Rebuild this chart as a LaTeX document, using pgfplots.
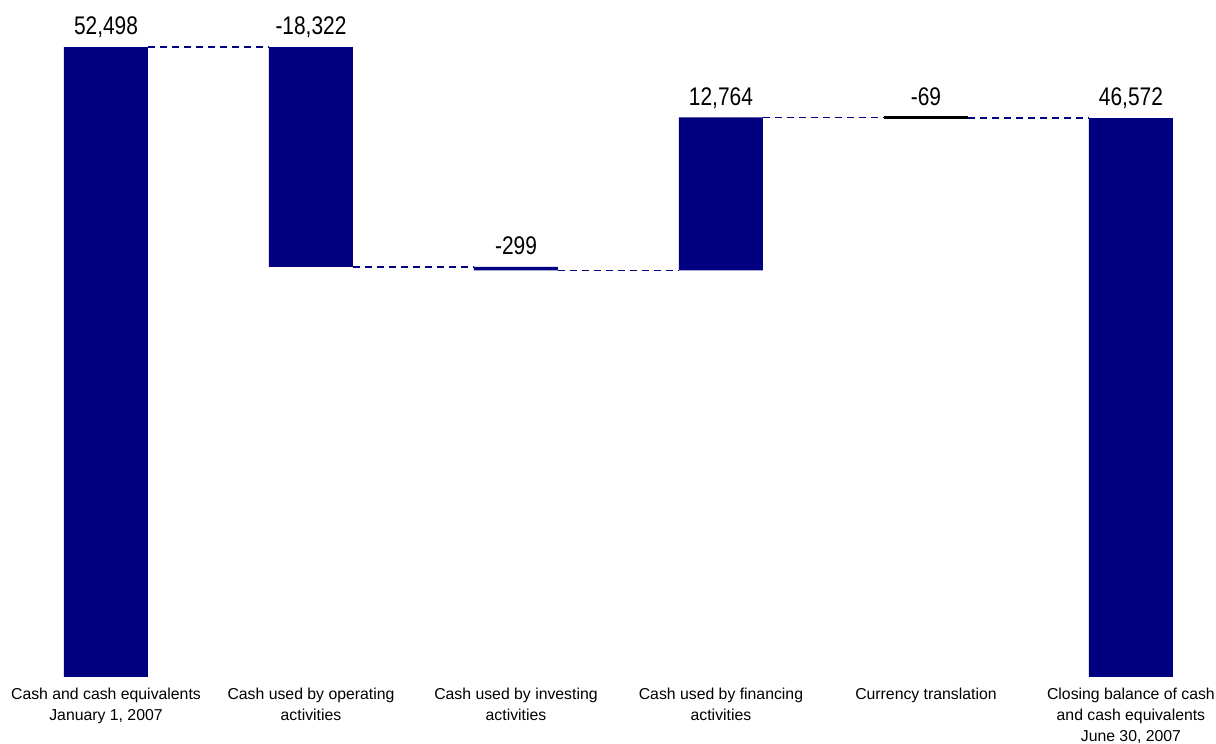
\documentclass[border=0pt]{standalone}
\usepackage{fontspec}
\setmainfont{Liberation Sans}
\newfontfamily\valfont[FakeStretch=0.82]{Liberation Sans}
\usepackage{pgfplots}
\usepackage{pgfplotstable}
\pgfplotsset{compat=1.18}
\definecolor{navy}{RGB}{0,0,128}

\pgfplotstableread{
x base delta top label
0 0 52498 52498 52,498
1 34176 18322 52498 -18,322
2 33877 299 34176 -299
3 33877 12764 46641 12,764
4 46572 69 46641 -69
5 0 46572 46572 46,572
}\wfdata

\pgfplotsset{
  wfframe/.style={
    scale only axis,
    width=1209.5pt, height=660pt,
    xmin=-0.5, xmax=5.4, ymin=0, ymax=55000,
    at={(3.5pt,67pt)}, anchor=south west,
    axis line style={draw=none},
    tick style={draw=none},
    ytick=\empty,
    clip=false,
  }
}

\begin{document}
\begin{tikzpicture}
\path[use as bounding box] (0pt,0pt) rectangle (1216pt,744pt);
\begin{axis}[wfframe,
  ybar stacked, bar width=84pt,
  xtick=data,
  xticklabels={{Cash and cash equivalents\\January 1, 2007},
               {Cash used by operating\\activities},
               {Cash used by investing\\activities},
               {Cash used by financing\\activities},
               {Currency translation},
               {Closing balance of cash\\and cash equivalents\\June 30, 2007}},
  xticklabel style={font=\fontsize{15.8}{21}\selectfont, align=center, anchor=north, inner sep=0pt, yshift=-11pt},
]
\addplot[draw=none, fill=none] table[x=x, y=base] {\wfdata};
\addplot[fill=navy, draw=none] table[x=x, y=delta] {\wfdata};
\end{axis}
\begin{axis}[wfframe, xtick=\empty]
\addplot[navy, line width=1.6pt, dash pattern=on 7pt off 5pt] coordinates {(0.205,52498) (0.795,52498)};
\addplot[navy, line width=1.6pt, dash pattern=on 7pt off 5pt] coordinates {(1.205,34176) (1.795,34176)};
\addplot[navy, line width=1.6pt, dash pattern=on 7pt off 5pt] coordinates {(2.205,33877) (2.795,33877)};
\addplot[navy, line width=1.6pt, dash pattern=on 7pt off 5pt] coordinates {(3.205,46641) (3.795,46641)};
\addplot[navy, line width=1.6pt, dash pattern=on 7pt off 5pt] coordinates {(4.205,46572) (4.795,46572)};
\addplot[black, line width=2.5pt] coordinates {(3.795,46606) (4.205,46606)};
\addplot[draw=none, mark=none,
  nodes near coords, point meta=explicit symbolic,
  every node near coord/.append style={font=\valfont\fontsize{25.5}{28}\selectfont, text depth=0pt, inner sep=0pt, anchor=south, yshift=12pt, text=black}]
  table[x=x, y=top, meta=label] {\wfdata};
\end{axis}
\end{tikzpicture}
\end{document}
